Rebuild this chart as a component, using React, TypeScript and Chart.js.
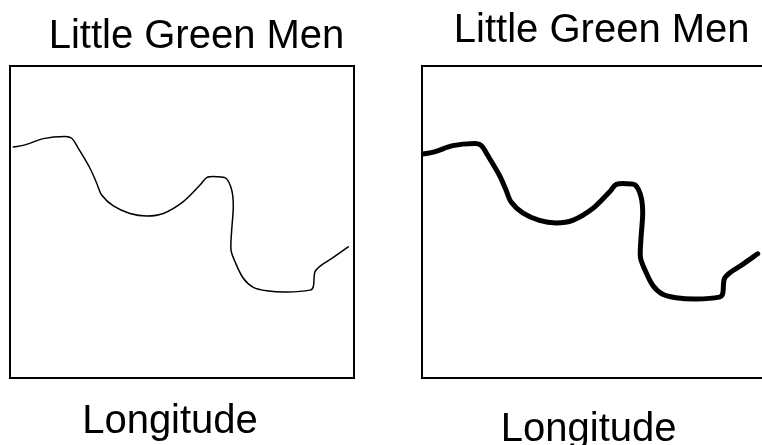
import React, { useEffect, useRef } from "react";
import { Chart, registerables } from "chart.js";

Chart.register(...registerables);

// Sighting track: longitude (x) against count of little green men (y)
const longitude = [
  0.96, 4.36, 9.68, 15.99, 17.94, 19.85, 23.26, 25.2, 26.66, 30.03, 34.88,
  39.74, 44.56, 50.38, 55.23, 57.18, 60.09, 62.79, 64.45, 64.91, 64.45, 64.24,
  65.41, 67.82, 70.73, 74.62, 80.44, 87.21, 88.17, 88.66, 90.61, 93.98, 98.34,
];
const menCount = [
  74.0, 74.7, 76.7, 77.4, 76.8, 73.6, 67.2, 62.4, 58.6, 55.1, 52.7, 51.9,
  52.7, 56.5, 61.8, 64.2, 64.5, 64.0, 60.2, 54.9, 47.4, 41.0, 37.2, 31.9, 29.0,
  27.9, 27.5, 28.1, 29.2, 34.0, 36.2, 38.6, 42.0,
];

const chartTitle = "Little Green Men";
const xAxisLabel = "Longitude";

const TEXT_FONT = '40px "Liberation Sans", Arial, Helvetica, sans-serif';

// Draws the panel heading above the frame and the axis label below it.
const panelText = {
  id: "panelText",
  afterDraw(chart: any, _args: any, opts: any) {
    const { ctx, chartArea } = chart;
    const cx = (chartArea.left + chartArea.right) / 2;
    ctx.save();
    ctx.font = TEXT_FONT;
    ctx.fillStyle = "#000";
    ctx.textAlign = "center";
    ctx.textBaseline = "alphabetic";
    ctx.fillText(opts.title, cx + opts.titleShift, chartArea.top - opts.titleGap);
    ctx.fillText(opts.label, cx + opts.labelShift, chartArea.bottom + opts.labelGap);
    ctx.restore();
  },
};

type PanelProps = {
  left: number;
  width: number;
  height: number;
  lineWidth: number;
  frameWidth: number;
  xMin: number;
  xMax: number;
  yMin: number;
  yMax: number;
  padding: { left: number; top: number; right: number; bottom: number };
  titleShift: number;
  titleGap: number;
  labelShift: number;
  labelGap: number;
};

function framedAxis(position: string, width: number, min?: number, max?: number) {
  const axis: any = {
    type: "linear",
    position,
    display: true,
    ticks: { display: false },
    grid: { display: false, drawTicks: false, tickLength: 0 },
    border: { display: true, color: "#000", width },
    title: { display: false },
  };
  if (min !== undefined) axis.min = min;
  if (max !== undefined) axis.max = max;
  return axis;
}

function Panel(p: PanelProps) {
  const ref = useRef<HTMLCanvasElement | null>(null);

  useEffect(() => {
    if (!ref.current) return;
    const chart = new Chart(ref.current, {
      type: "line",
      data: {
        datasets: [
          {
            data: longitude.map((x, i) => ({ x, y: menCount[i] })),
            borderColor: "#000",
            borderWidth: p.lineWidth,
            borderCapStyle: "round",
            borderJoinStyle: "round",
            pointRadius: 0,
            tension: 0.3,
            fill: false,
          },
        ],
      },
      options: {
        responsive: false,
        animation: false,
        events: [],
        layout: { padding: p.padding },
        scales: {
          x: framedAxis("bottom", p.frameWidth, p.xMin, p.xMax),
          xTop: framedAxis("top", p.frameWidth),
          y: framedAxis("left", p.frameWidth, p.yMin, p.yMax),
          yRight: framedAxis("right", p.frameWidth),
        },
        plugins: {
          legend: { display: false },
          title: { display: false },
          tooltip: { enabled: false },
          panelText: {
            title: chartTitle,
            label: xAxisLabel,
            titleShift: p.titleShift,
            titleGap: p.titleGap,
            labelShift: p.labelShift,
            labelGap: p.labelGap,
          },
        } as any,
      },
      plugins: [panelText],
    } as any);
    return () => chart.destroy();
  }, []);

  return (
    <canvas
      ref={ref}
      width={p.width}
      height={p.height}
      style={{ position: "absolute", left: p.left, top: 0, display: "block" }}
    />
  );
}

export default function App() {
  return (
    <div
      style={{
        position: "absolute",
        left: 0,
        top: 0,
        width: 762,
        height: 445,
        overflow: "hidden",
        background: "#fff",
      }}
    >
      <Panel
        left={0}
        width={381}
        height={445}
        lineWidth={1.5}
        frameWidth={2}
        xMin={0}
        xMax={100}
        yMin={0}
        yMax={100}
        padding={{ left: 10, top: 66, right: 27, bottom: 67.3 }}
        titleShift={14.5}
        titleGap={18}
        labelShift={-12}
        labelGap={55.3}
      />
      <Panel
        left={381}
        width={400}
        height={445}
        lineWidth={5}
        frameWidth={2}
        xMin={0.67}
        xMax={100.67}
        yMin={2.25}
        yMax={102.25}
        padding={{ left: 40.7, top: 66, right: 15.3, bottom: 67.3 }}
        titleShift={8}
        titleGap={24}
        labelShift={-5}
        labelGap={63.3}
      />
    </div>
  );
}
